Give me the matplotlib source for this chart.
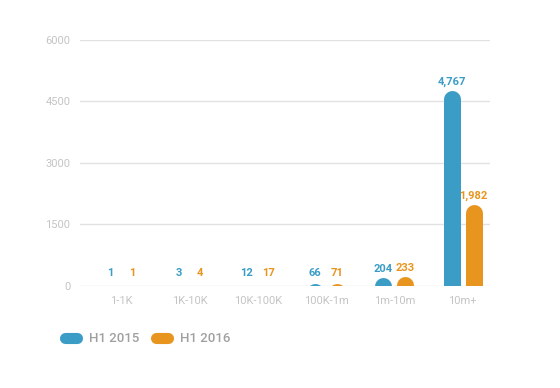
import matplotlib
matplotlib.use("Agg")
import matplotlib.pyplot as plt
from matplotlib.lines import Line2D
import numpy as np

plt.rcParams['font.family'] = ['Roboto', 'DejaVu Sans']

categories = ["1-1K", "1K-10K", "10K-100K", "100K-1m", "1m-10m", "10m+"]
h1_2015 = [1, 3, 12, 66, 204, 4767]
h1_2016 = [1, 4, 17, 71, 233, 1982]
series_names = ["H1 2015", "H1 2016"]
colors = ["#3b9dc6", "#e8951f"]
yticks = [0, 1500, 3000, 4500, 6000]

fig = plt.figure(figsize=(5.6, 3.88), dpi=100)
ax = fig.add_axes([0.143, 0.263, 0.732, 0.634])
ax.set_xlim(-0.6, 5.4)
ax.set_ylim(0, 6000)

# pixel -> data conversions for the rounded bar caps
px_per_unit_y = ax.get_position().height * fig.get_figheight() * fig.dpi / 6000
bar_px = 17
radius = (bar_px / 2) / px_per_unit_y
lw_pt = bar_px * 72 / fig.dpi

x = np.arange(len(categories))
offsets = [-0.16, 0.16]

for vals, off, col in zip([h1_2015, h1_2016], offsets, colors):
    for xi, v in zip(x, vals):
        top = v - radius
        ln = ax.plot([xi + off, xi + off], [min(top, 0) - radius, top],
                     color=col, lw=lw_pt, solid_capstyle='round', zorder=3)[0]
        ln.set_clip_on(True)
        ax.annotate(f"{v:,}", (xi + off, max(v, 120)), xytext=(0, 2.5),
                    textcoords="offset points", ha="center", va="bottom",
                    color=col, fontsize=8, fontweight="bold")

ax.set_yticks(yticks)
ax.set_yticklabels([str(t) for t in yticks])
ax.set_xticks(x)
ax.set_xticklabels(categories)
ax.tick_params(axis="both", length=0, colors="#c4c4c4", labelsize=8)
ax.tick_params(axis="y", pad=7)
ax.tick_params(axis="x", pad=7)
for t in yticks:
    ax.axhline(t, color="#e2e2e2", lw=1, zorder=1)
for s in ax.spines.values():
    s.set_visible(False)

handles = [Line2D([0], [0], color=c, lw=8, solid_capstyle='round') for c in colors]
fig.legend(handles, series_names, loc="center left", bbox_to_anchor=(0.095, 0.127),
           ncol=2, frameon=False, handlelength=0.9, handletextpad=0.9,
           columnspacing=1.3, prop={"size": 9.5, "weight": "medium"})
for txt in fig.legends[0].get_texts():
    txt.set_color("#a0a0a0")

plt.savefig("out.png", dpi=100)
